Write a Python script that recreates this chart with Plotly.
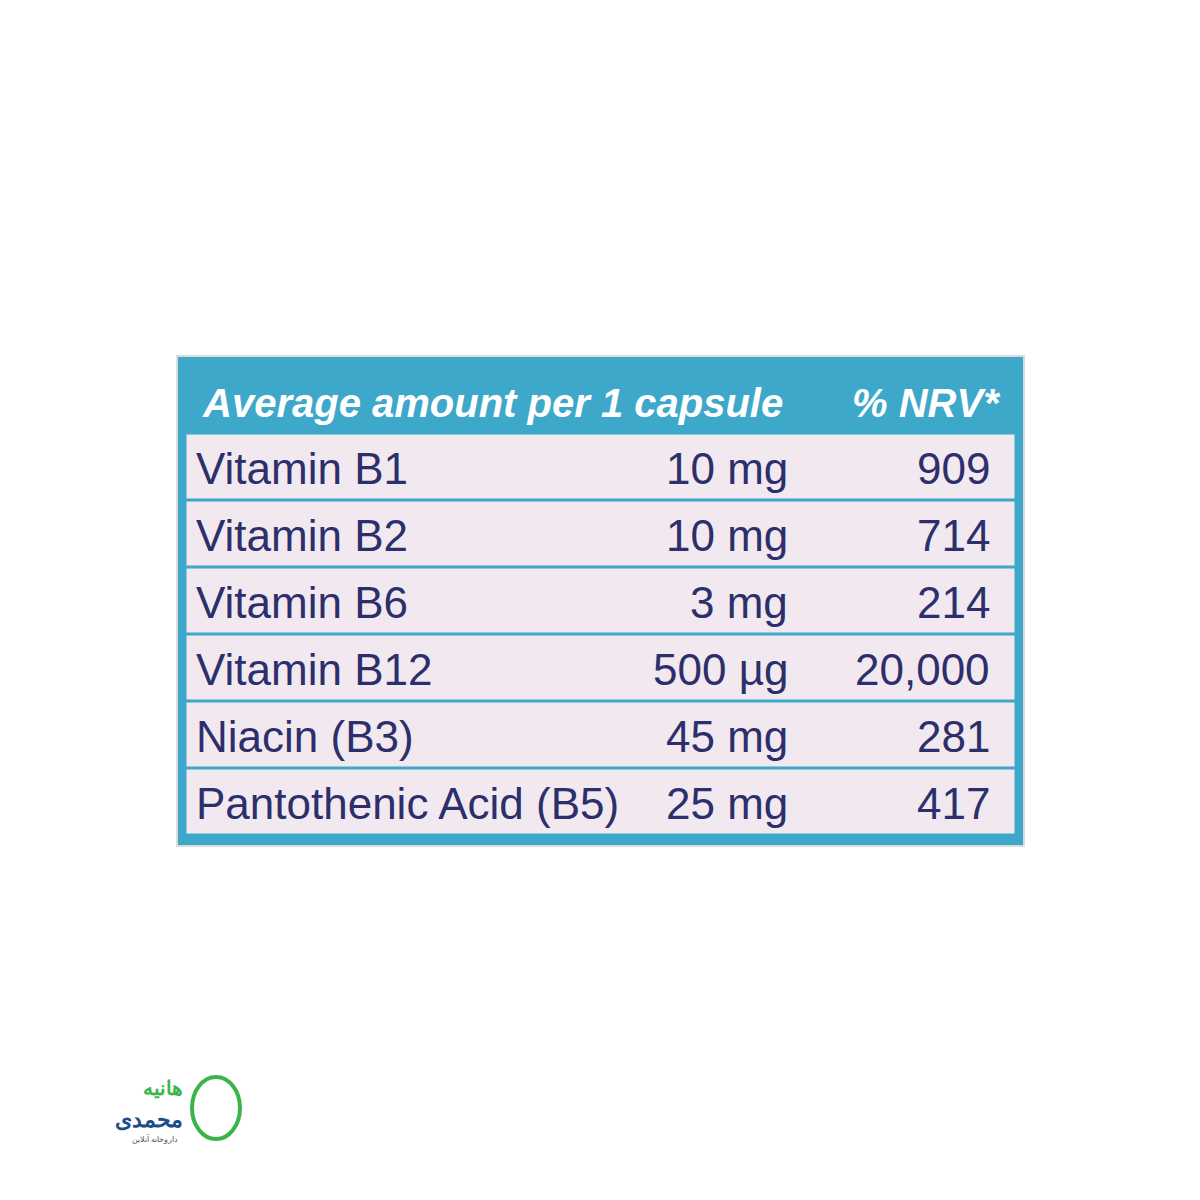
import plotly.graph_objects as go

nutrients = ["Vitamin B1", "Vitamin B2", "Vitamin B6", "Vitamin B12", "Niacin (B3)", "Pantothenic Acid (B5)"]
amounts = ["10 mg", "10 mg", "3 mg", "500 µg", "45 mg", "25 mg"]
nrv = ["909", "714", "214", "20,000", "281", "417"]
header_left = "Average amount per 1 capsule"
header_right = "% NRV*"

blue = "#3da8c9"
bg = "#f1e9ef"
ink = "#2c2f6b"
font = "Liberation Sans, Arial, sans-serif"

DX, DY = -8, -7
def px(p):
    return (p + DX) / 1200
def py(p):
    return 1 - (p + DY) / 1200

top, head_h, row_h = 360, 72, 67
fig = go.Figure()
fig.add_shape(type="rect", xref="paper", yref="paper", x0=px(177), x1=px(1024),
              y0=py(845), y1=py(355), fillcolor=blue, line=dict(color="#dcdcdc", width=2), layer="below")
fig.add_shape(type="rect", xref="paper", yref="paper", x0=px(185), x1=px(1016),
              y0=py(top + head_h + 6*row_h), y1=py(top + head_h), fillcolor=bg,
              line=dict(color=blue, width=3), layer="below")
for i in range(1, len(nutrients)):
    y = py(top + head_h + i * row_h)
    fig.add_shape(type="line", xref="paper", yref="paper", x0=px(185), x1=px(1016), y0=y, y1=y,
                  line=dict(color=blue, width=3))
for i, (n, a, v) in enumerate(zip(nutrients, amounts, nrv)):
    yc = py(top + head_h + i * row_h + row_h / 2 + 2)
    for txt, x, anc in [(n, 194, "left"), (a, 790, "right"), (v, 992, "right")]:
        fig.add_annotation(x=px(x), y=yc, xref="paper", yref="paper", text=txt, showarrow=False,
                           xanchor=anc, yanchor="middle", font=dict(family=font, size=44, color=ink))
for txt, x, anc in [(header_left, 200, "left"), (header_right, 1003, "right")]:
    fig.add_annotation(x=px(x), y=py(402), xref="paper", yref="paper",
                       text="<i><b>" + txt + "</b></i>", showarrow=False, xanchor=anc, yanchor="middle",
                       font=dict(family=font, size=40, color="white"))
for txt, x, y, size, col in [("<b>هانیه</b>", 185, 1086, 20, "#3bb54a"),
                             ("<b>محمدی</b>", 185, 1117, 22, "#1c4e8c"),
                             ("داروخانه آنلاین", 180, 1137, 8, "#555")]:
    fig.add_annotation(x=px(x), y=py(y), xref="paper", yref="paper", text=txt, showarrow=False,
                       xanchor="right", yanchor="middle", font=dict(size=size, color=col, family="Noto Sans"))
fig.add_shape(type="circle", xref="paper", yref="paper", x0=px(192), x1=px(240),
              y0=py(1138), y1=py(1076), line=dict(color="#3bb54a", width=4))
fig.update_layout(width=1200, height=1200, margin=dict(l=0, r=0, t=0, b=0),
                  paper_bgcolor="white", plot_bgcolor="white",
                  xaxis=dict(visible=False), yaxis=dict(visible=False))
fig.write_html("out.html")
